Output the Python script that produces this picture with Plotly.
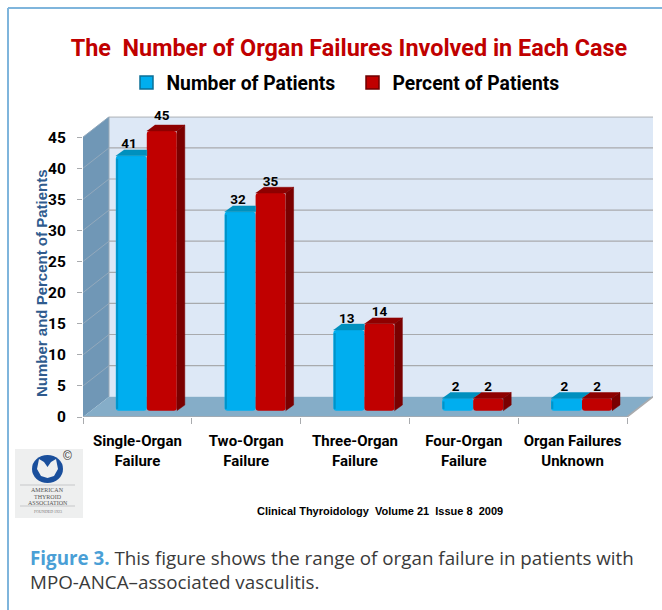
import plotly.graph_objects as go

# ---------- data ----------
categories = ["Single-Organ<br>Failure", "Two-Organ<br>Failure", "Three-Organ<br>Failure",
              "Four-Organ<br>Failure", "Organ Failures<br>Unknown"]
number_of_patients = [41, 32, 13, 2, 2]
percent_of_patients = [45, 35, 14, 2, 2]
y_ticks = [0, 5, 10, 15, 20, 25, 30, 35, 40, 45]
title_text = "The  Number of Organ Failures Involved in Each Case"
series_names = ["Number of Patients", "Percent of Patients"]
y_title = "Number and Percent of Patients"
source_text = "Clinical Thyroidology  Volume 21  Issue 8  2009"
caption_line1 = "This figure shows the range of organ failure in patients with"
caption_line2 = "MPO-ANCA–associated vasculitis."

# ---------- layout constants ----------
W, H = 662, 610
LEFT, RIGHT, BOTTOM, TOP = 83, 653, 417, 116.5
PX_X = 108.8          # px per category
PX_Y = 6.22           # px per value unit
DX, DY = 26 / PX_X, 20.3 / PX_Y      # wall depth, data units
BX, BY = 8 / PX_X, 5.8 / PX_Y        # bar depth, data units
FLOOR = 1.0           # bars stand on the floor, one unit above the front edge
BW_A, BW_B = 31 / PX_X, 30 / PX_X
OFF_A = -21.6 / PX_X
OFF_B = OFF_A + BW_A
X0, X1 = -0.5, -0.5 + (RIGHT - LEFT) / PX_X
YMAX = (BOTTOM - TOP) / PX_Y
N = len(categories)
XS = list(range(N))
XEND = N - 0.5

COND = "Roboto, Liberation Sans, sans-serif"
SANS = "Liberation Sans, Arial, sans-serif"
CAP = "Open Sans, sans-serif"
GRID = "#A8AAAD"


def px(x):
    return x / W


def py(y):
    return 1 - y / H


fig = go.Figure()


def poly(xs, ys, color):
    fig.add_trace(go.Scatter(x=xs, y=ys, mode="lines", fill="toself", fillcolor=color,
                             line=dict(color=color, width=0.5), hoverinfo="skip",
                             showlegend=False, cliponaxis=False))


def segment(xs, ys, color, width=1.2):
    fig.add_trace(go.Scatter(x=xs, y=ys, mode="lines", line=dict(color=color, width=width),
                             hoverinfo="skip", showlegend=False, cliponaxis=False))


def wall(xs, ys, color):
    path = "M " + " L ".join(f"{x} {y}" for x, y in zip(xs, ys)) + " Z"
    return dict(type="path", xref="x", yref="y", path=path, fillcolor=color,
                line=dict(width=0), layer="below")


def wall_line(x0, x1, y0, y1, color, width=1.2):
    return dict(type="line", xref="x", yref="y", x0=x0, x1=x1, y0=y0, y1=y1,
                line=dict(color=color, width=width), layer="below")


shapes = [
    wall([X0 + DX, XEND + DX, XEND + DX, X0 + DX], [DY, DY, 45 + DY, 45 + DY], "#DDE8F6"),
    wall([X0, X0 + DX, X0 + DX, X0], [0, DY, 45 + DY, 45], "#7097B6"),
    wall([X0, XEND, XEND + DX, X0 + DX], [0, 0, DY, DY], "#85ADC8"),
]
for t in y_ticks[1:]:
    shapes.append(wall_line(X0 + DX, XEND + DX, t + DY, t + DY, GRID))
    shapes.append(wall_line(X0, X0 + DX, t, t + DY, "#93A9BC", 1))
shapes.append(wall_line(X0 + DX, X0 + DX, DY, 45 + DY, "#9AA9B6", 1))

# axis edge along the floor
segment([X0, XEND, XEND + DX], [0, 0, DY], "#A9ABAE", 1.6)

# front faces
for name, vals, off, bw, color in [
    (series_names[0], number_of_patients, OFF_A, BW_A, "#00AEEF"),
    (series_names[1], percent_of_patients, OFF_B, BW_B, "#C00000"),
]:
    fig.add_trace(go.Bar(x=XS, y=vals, base=[FLOOR] * N, offset=off, width=bw, name=name,
                         marker=dict(color=color, cornerradius=3, line=dict(width=0)),
                         hoverinfo="skip", showlegend=False))

# legend entries
for name, color, edge in [(series_names[0], "#00AEEF", "#0B6F96"), (series_names[1], "#C00000", "#6E0000")]:
    fig.add_trace(go.Scatter(x=[None], y=[None], mode="markers", name=name,
                             marker=dict(symbol="square", size=13, color=color,
                                         line=dict(color=edge, width=1.5))))

# top and side faces, computed from the values
for i in XS:
    a, b = number_of_patients[i], percent_of_patients[i]
    xa0, xa1 = i + OFF_A, i + OFF_A + BW_A
    xb0, xb1 = xa1, xa1 + BW_B
    ta, tb = a + FLOOR, b + FLOOR
    # blue top (trimmed where the taller red front hides it)
    if b > a:
        poly([xa0, xa1, xa1, xa0 + BX], [ta, ta, ta + BY, ta + BY], "#0090BE")
    else:
        poly([xa0, xa1, xa1 + BX, xa0 + BX], [ta, ta, ta + BY, ta + BY], "#0090BE")
    # red top and side
    poly([xb0, xb1, xb1 + BX, xb0 + BX], [tb, tb, tb + BY, tb + BY], "#8E0000")
    poly([xb1, xb1 + BX, xb1 + BX, xb1], [FLOOR, FLOOR + BY, tb + BY, tb], "#7A0000")
    # darker left edge on the blue front
    segment([xa0 + 0.012, xa0 + 0.012], [FLOOR + 0.3, ta - 0.5], "#0093C8", 2)

# value labels (sit above the anchor point, which must stay inside the y range)
for vals, off, bw, nudge in [(number_of_patients, OFF_A, BW_A, -0.02), (percent_of_patients, OFF_B, BW_B, 0.0)]:
    fig.add_trace(go.Scatter(x=[i + off + bw / 2 + nudge for i in XS],
                             y=[v + FLOOR + BY - 0.3 + (0.6 if v == 45 else 0) for v in vals],
                             text=[str(v) for v in vals], mode="text",
                             textposition="top center",
                             textfont=dict(family=COND, size=13.5, color="#000000", weight="bold"),
                             hoverinfo="skip", showlegend=False, cliponaxis=False))

# logo + frame shapes (paper coordinates)
shapes += [
    dict(type="line", xref="paper", yref="paper", x0=px(8), x1=1, y0=py(8), y1=py(8),
         line=dict(color="#7FB5DC", width=2)),
    dict(type="line", xref="paper", yref="paper", x0=px(8), x1=px(8), y0=py(8), y1=0,
         line=dict(color="#7FB5DC", width=2)),
    dict(type="rect", xref="paper", yref="paper", x0=px(15), x1=px(83), y0=py(449), y1=py(518),
         fillcolor="#EEEFEF", line=dict(width=0), layer="below"),
    dict(type="circle", xref="paper", yref="paper", x0=px(32), x1=px(63), y0=py(455), y1=py(483),
         fillcolor="#1A4F9C", line=dict(width=0)),
    dict(type="path", xref="paper", yref="paper", fillcolor="#EEEFEF", line=dict(width=0),
         path=f"M {px(39)} {py(459)} L {px(44)} {py(462)} L {px(47.5)} {py(467)} L {px(51)} {py(462)} "
              f"L {px(56)} {py(459)} L {px(58)} {py(469)} L {px(54)} {py(476)} L {px(47.5)} {py(478)} "
              f"L {px(41)} {py(476)} L {px(37)} {py(469)} Z"),
    dict(type="line", xref="paper", yref="paper", x0=px(20), x1=px(75), y0=py(485), y1=py(485),
         line=dict(color="#B5B8BA", width=0.7)),
    dict(type="line", xref="paper", yref="paper", x0=px(20), x1=px(75), y0=py(506), y1=py(506),
         line=dict(color="#B5B8BA", width=0.7)),
]


def note(text, x, y, size, color="#000000", family=SANS, anchor="left", bold=False, angle=0):
    return dict(text=text, xref="paper", yref="paper", x=px(x), y=py(y), showarrow=False,
                xanchor=anchor, yanchor="middle", textangle=angle,
                font=dict(family=family, size=size, color=color, weight="bold" if bold else "normal"))


annotations = [
    note(y_title, 41, 283, 15, "#2F5B8E", SANS, "center", True, -90),
    note(source_text, 379.5, 511, 11, "#000000", SANS, "center", True),
    note("<b style='color:#4A9FD6'>Figure 3.</b> " + caption_line1, 27.5, 558, 18.8, "#3A3A3A", CAP),
    note(caption_line2, 27.5, 582, 18.8, "#3A3A3A", CAP),
    note("©", 67, 456, 12, "#333333", SANS, "center"),
    note("AMERICAN", 47.5, 490, 6, "#555555", "Liberation Serif, serif", "center"),
    note("THYROID", 47.5, 496.5, 6, "#555555", "Liberation Serif, serif", "center"),
    note("ASSOCIATION", 47.5, 503, 6, "#555555", "Liberation Serif, serif", "center"),
    note("FOUNDED 1923", 47.5, 511, 4, "#777777", "Liberation Serif, serif", "center"),
]

fig.update_layout(
    width=W, height=H, autosize=False,
    margin=dict(l=0, r=0, t=0, b=0, autoexpand=False),
    paper_bgcolor="#FFFFFF", plot_bgcolor="rgba(0,0,0,0)",
    barmode="overlay",
    title=dict(text=title_text, x=px(349), y=py(48), xanchor="center", yanchor="middle",
               xref="paper", yref="paper",
               font=dict(family=COND, size=23.4, color="#C00000", weight="bold")),
    legend=dict(orientation="h", x=px(126.5), y=py(83), xanchor="left", yanchor="middle",
                font=dict(family=COND, size=19.3, color="#000000", weight="bold"),
                bgcolor="rgba(0,0,0,0)", entrywidth=181, entrywidthmode="pixels",
                itemclick=False, itemdoubleclick=False),
    xaxis=dict(domain=[px(LEFT), px(RIGHT)], range=[X0, X1], showgrid=False, zeroline=False,
               showline=False, tickmode="array", tickvals=XS, ticktext=categories, ticks="",
               tickangle=0, ticklabelstandoff=13,
               tickfont=dict(family=COND, size=15, color="#000000", weight="bold"),
               minor=dict(tickmode="array", tickvals=[i - 0.5 for i in range(N + 1)], ticks="outside",
                          ticklen=6, tickcolor="#A9ABAE", tickwidth=1, showgrid=False)),
    yaxis=dict(domain=[py(BOTTOM), py(TOP)], range=[0, YMAX], showgrid=False, zeroline=False,
               showline=False, tickmode="array", tickvals=y_ticks, ticks="outside", ticklen=5,
               tickcolor="#A9ABAE", tickwidth=1, ticklabelstandoff=8,
               tickfont=dict(family=COND, size=15.5, color="#000000", weight="bold")),
    shapes=shapes, annotations=annotations, showlegend=True,
)

fig.write_html("out.html", post_script="document.body.style.margin='0';",
               config=dict(displayModeBar=False))
